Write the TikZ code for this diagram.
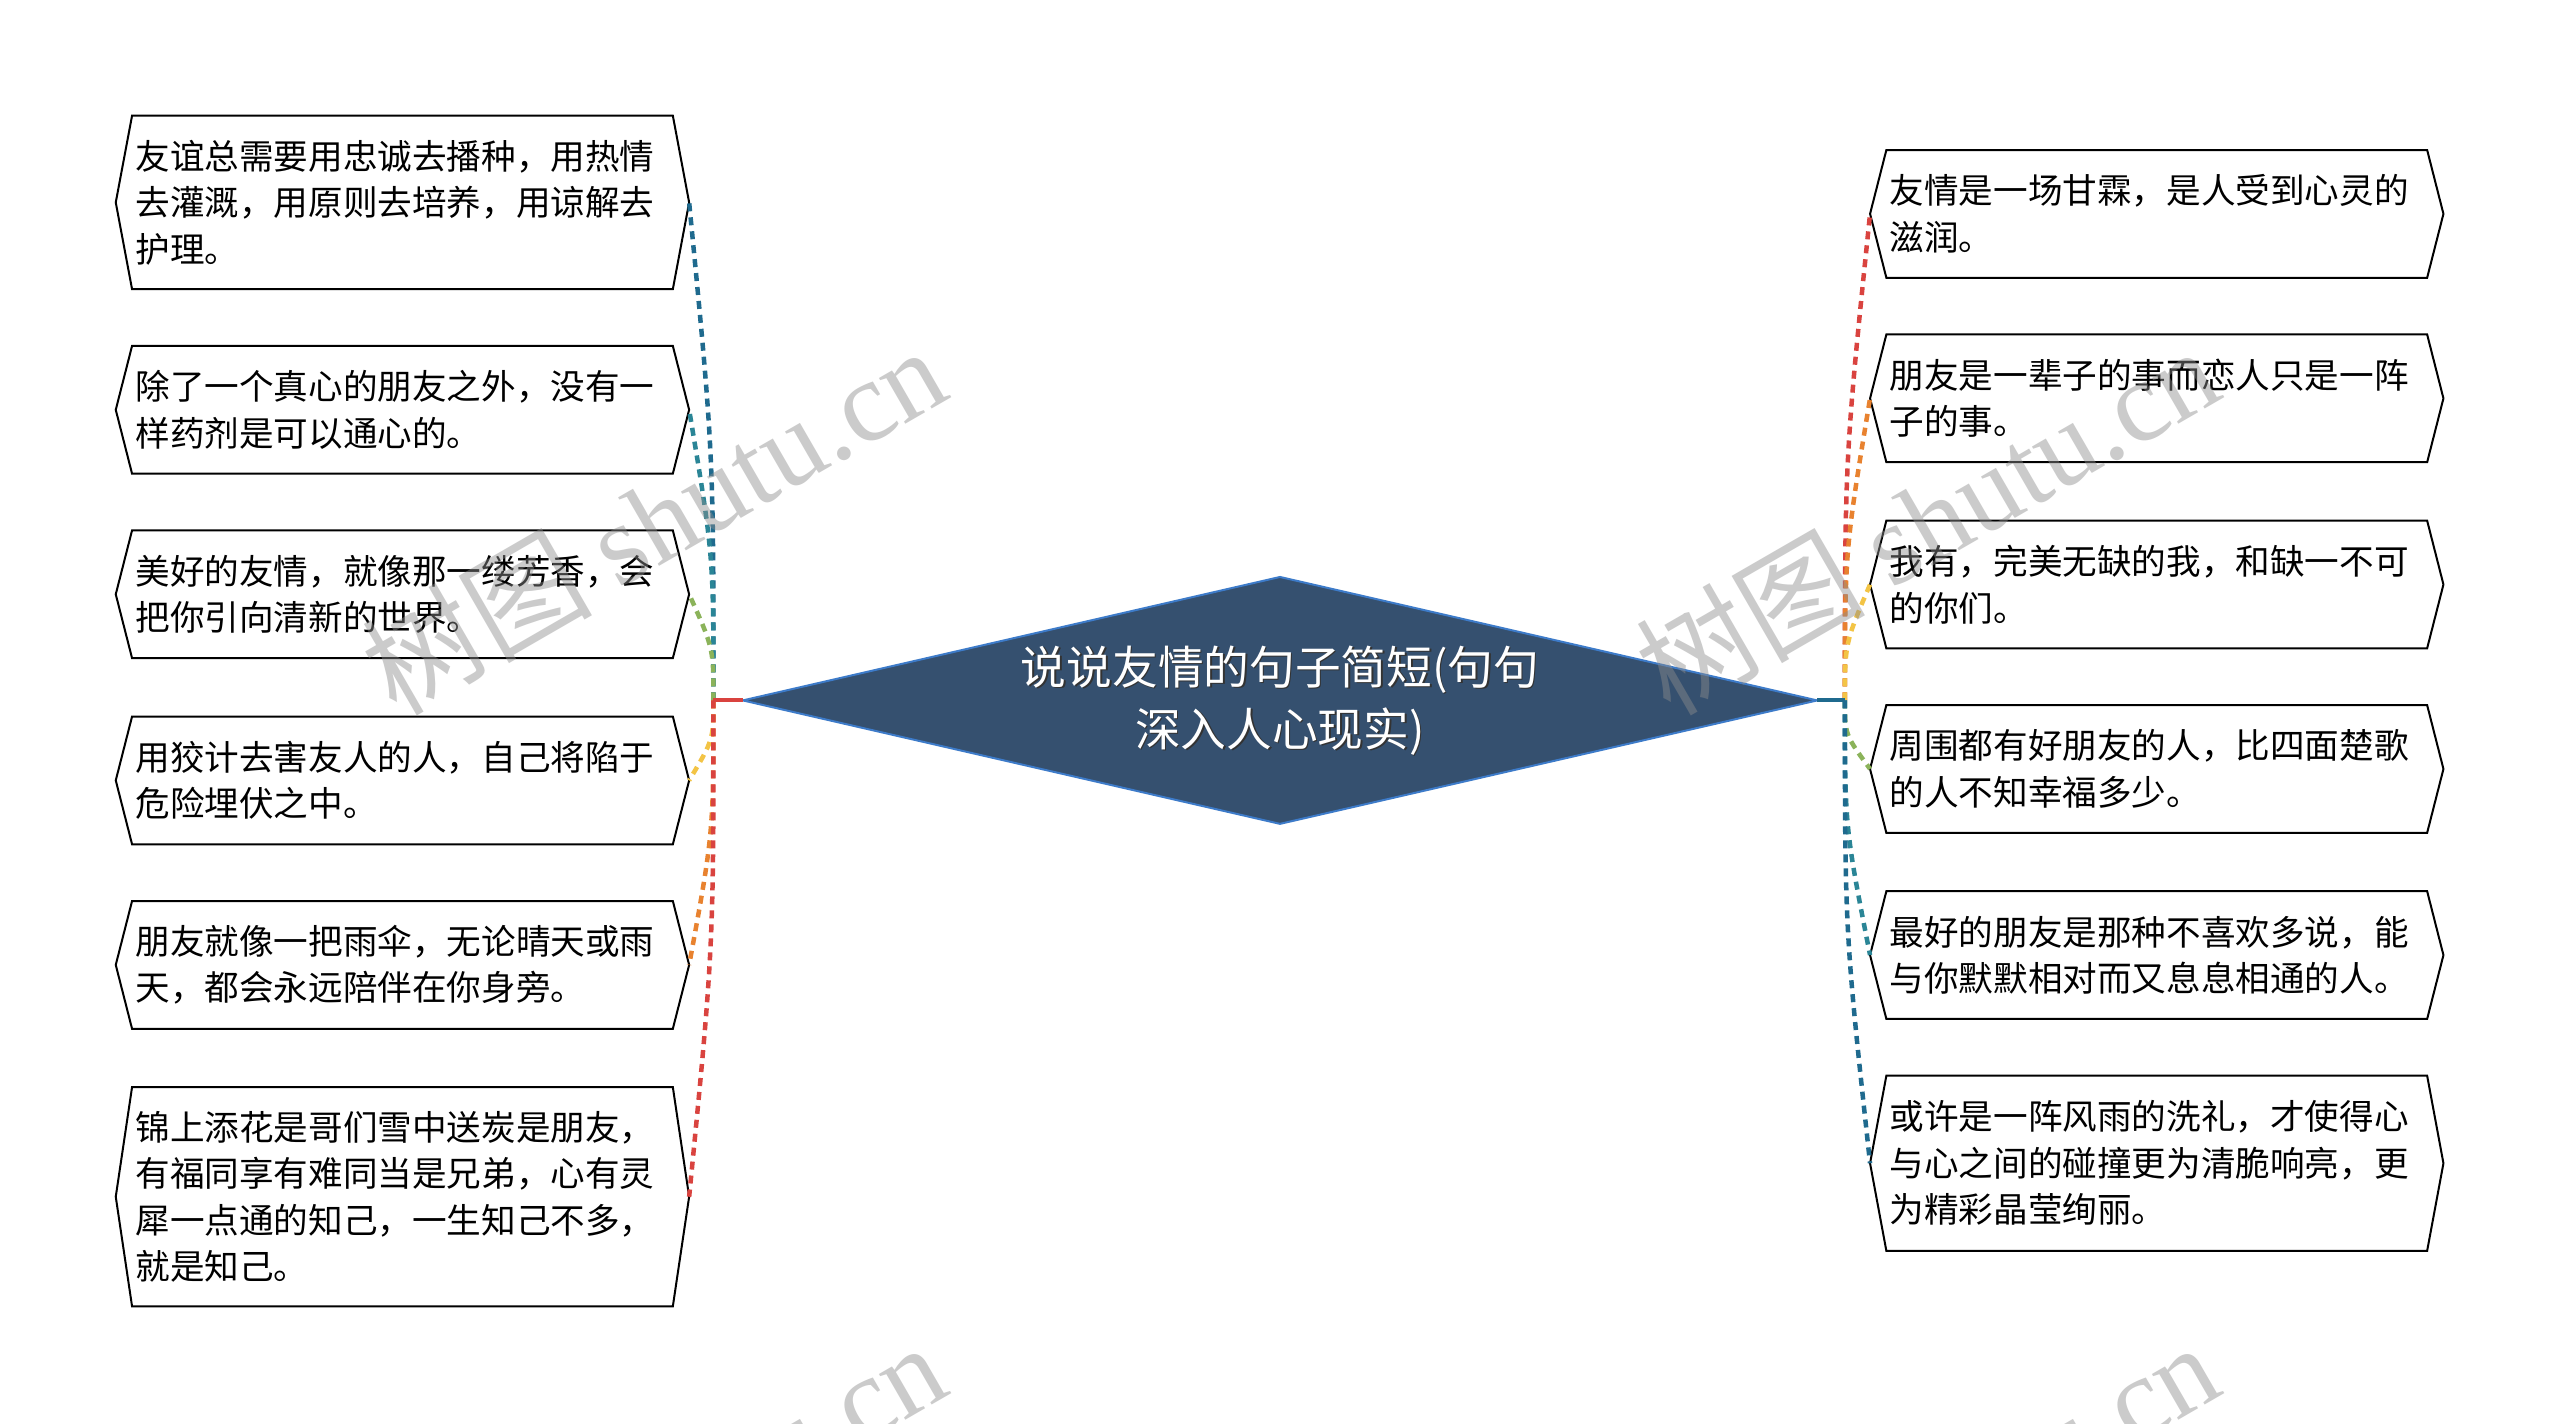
\documentclass[tikz,border=0pt]{standalone}
\usepackage{fontspec}
\setmainfont{Noto Sans CJK SC}
\newfontfamily\wmcjk{Noto Sans CJK SC}
\newfontfamily\wmlat{Liberation Serif}
\usetikzlibrary{calc}
\definecolor{cblue}{HTML}{1F6A8E}
\definecolor{cteal}{HTML}{2A8596}
\definecolor{cgreen}{HTML}{8BB35A}
\definecolor{cyellow}{HTML}{F3C445}
\definecolor{corange}{HTML}{E8822F}
\definecolor{cred}{HTML}{D9433F}
\definecolor{rootfill}{HTML}{35506F}
\definecolor{rootline}{HTML}{3D7BC9}
\tikzset{
  leaf/.style={inner xsep=3pt, inner ysep=0pt, text width=534pt, align=left,
    minimum width=540.4pt, font=\fontsize{34.6pt}{46.5pt}\selectfont},
  hgt/.style={minimum height=#1*1.6327pt},
  frame/.style={draw=black, line width=2pt, line join=miter},
  conn/.style={line width=4.5pt, dash pattern=on 8pt off 6pt},
  rootnode/.style={rectangle, inner sep=0pt,
    minimum width=1074pt, minimum height=246.5pt, text=white, align=center,
    font=\fontsize{45.7pt}{62pt}\selectfont},
  rootshape/.style={fill=rootfill, draw=rootline, line width=2pt, line join=miter},
  wmark/.style={text=black!45, text opacity=0.45, rotate=30,
    font=\fontsize{115pt}{115pt}\selectfont}
}
\newcommand{\hexframe}[1]{\draw[frame] (#1.north west) -- (#1.north east) -- ([xshift=16.3pt]#1.east) -- (#1.south east) -- (#1.south west) -- ([xshift=-16.3pt]#1.west) -- cycle;}
\begin{document}
\begin{tikzpicture}[x=1.6327pt,y=-1.6327pt]
\useasboundingbox (0,0) rectangle (1568,872);
\fill[white] (0,0) rectangle (1568,872);

% root
\node[rootnode] (root) at (784,429) {};
\draw[rootshape] (root.west) -- (root.north) -- (root.east) -- (root.south) -- cycle;
\node[rootnode, text=black!80, xshift=1.5pt, yshift=-1.5pt] (rootshadow) at (root.center) {说说友情的句子简短(句句\\深入人心现实)};
\node[rootnode] (roottext) at (root.center) {说说友情的句子简短(句句\\深入人心现实)};
\coordinate (JL) at (437,429);
\coordinate (JR) at (1130,429);

% left leaves
\node[leaf,hgt=106] (l1) at (246.5,124) {友谊总需要用忠诚去播种，用热情\\去灌溉，用原则去培养，用谅解去\\护理。};
\node[leaf,hgt=78] (l2) at (246.5,251) {除了一个真心的朋友之外，没有一\\样药剂是可以通心的。};
\node[leaf,hgt=78] (l3) at (246.5,364) {美好的友情，就像那一缕芳香，会\\把你引向清新的世界。};
\node[leaf,hgt=78] (l4) at (246.5,478) {用狡计去害友人的人，自己将陷于\\危险埋伏之中。};
\node[leaf,hgt=78] (l5) at (246.5,591) {朋友就像一把雨伞，无论晴天或雨\\天，都会永远陪伴在你身旁。};
\node[leaf,hgt=134] (l6) at (246.5,733) {锦上添花是哥们雪中送炭是朋友，\\有福同享有难同当是兄弟，心有灵\\犀一点通的知己，一生知己不多，\\就是知己。};

% right leaves
\node[leaf,hgt=78] (r1) at (1321,131) {友情是一场甘霖，是人受到心灵的\\滋润。};
\node[leaf,hgt=78] (r2) at (1321,244) {朋友是一辈子的事而恋人只是一阵\\子的事。};
\node[leaf,hgt=78] (r3) at (1321,358) {我有，完美无缺的我，和缺一不可\\的你们。};
\node[leaf,hgt=78] (r4) at (1321,471) {周围都有好朋友的人，比四面楚歌\\的人不知幸福多少。};
\node[leaf,hgt=78] (r5) at (1321,585) {最好的朋友是那种不喜欢多说，能\\与你默默相对而又息息相通的人。};
\node[leaf,hgt=107] (r6) at (1321,712.5) {或许是一阵风雨的洗礼，才使得心\\与心之间的碰撞更为清脆响亮，更\\为精彩晶莹绚丽。};

\foreach \n in {l1,l2,l3,l4,l5,l6,r1,r2,r3,r4,r5,r6} {\hexframe{\n}}

% connectors left
\draw[conn,cblue]   (JL) .. controls +(0,-152) .. ([xshift=16.3pt]l1.east);
\draw[conn,cteal]   (JL) .. controls +(0,-89) .. ([xshift=16.3pt]l2.east);
\draw[conn,cgreen]  (JL) .. controls +(0,-32) .. ([xshift=16.3pt]l3.east);
\draw[conn,cyellow] (JL) .. controls +(0,24) .. ([xshift=16.3pt]l4.east);
\draw[conn,corange] (JL) .. controls +(0,81) .. ([xshift=16.3pt]l5.east);
\draw[conn,cred]    (JL) .. controls +(0,152) .. ([xshift=16.3pt]l6.east);
% connectors right
\draw[conn,cred]    (JR) .. controls +(0,-149) .. ([xshift=-16.3pt]r1.west);
\draw[conn,corange] (JR) .. controls +(0,-92) .. ([xshift=-16.3pt]r2.west);
\draw[conn,cyellow] (JR) .. controls +(0,-35) .. ([xshift=-16.3pt]r3.west);
\draw[conn,cgreen]  (JR) .. controls +(0,21) .. ([xshift=-16.3pt]r4.west);
\draw[conn,cteal]   (JR) .. controls +(0,78) .. ([xshift=-16.3pt]r5.west);
\draw[conn,cblue]   (JR) .. controls +(0,142) .. ([xshift=-16.3pt]r6.west);

% root links
\draw[cred,line width=4pt] (JL) -- (root.west);
\draw[cblue,line width=4pt] (root.east) -- (JR);

% watermarks
\begin{scope}
\clip (0,0) rectangle (1568,872);
\node[wmark] (w1) at (400,318) {{\wmcjk 树图} {\wmlat shutu.cn}};
\node[wmark] (w2) at (1180,318) {{\wmcjk 树图} {\wmlat shutu.cn}};
\node[wmark] (w3) at (400,928) {{\wmcjk 树图} {\wmlat shutu.cn}};
\node[wmark] (w4) at (1180,928) {{\wmcjk 树图} {\wmlat shutu.cn}};
\end{scope}
\end{tikzpicture}
\end{document}
